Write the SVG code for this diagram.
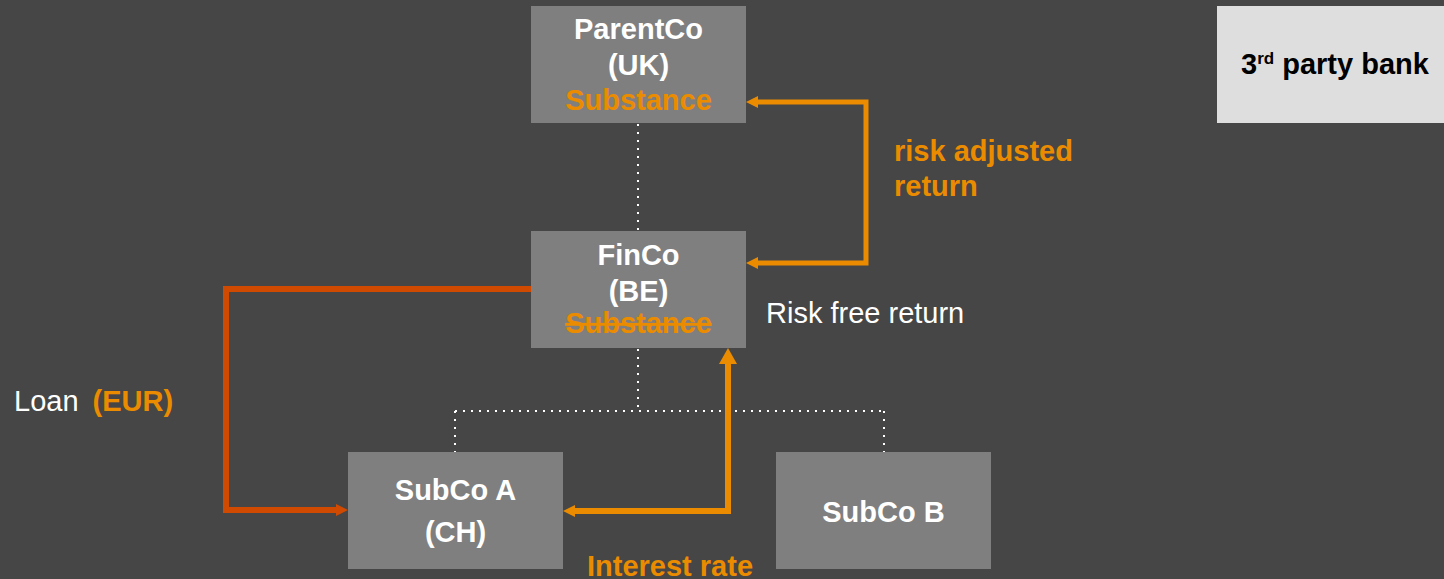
<svg xmlns="http://www.w3.org/2000/svg" width="1444" height="579" viewBox="0 0 1444 579">
<style>
.box{fill:#7F7F7F}
.t{font-family:"Liberation Sans",Arial,sans-serif;font-size:29px;font-weight:bold;fill:#FFFFFF;text-anchor:middle}
.or{fill:#EB8C00}
.lbl{font-family:"Liberation Sans",Arial,sans-serif;font-size:29px}
.dot{fill:none;stroke:#FFFFFF;stroke-width:2;stroke-dasharray:2 6}
.ol{fill:none;stroke:#EB8C00;stroke-width:5}
.rl{fill:none;stroke:#D04A02;stroke-width:6}
</style>
<defs>
<marker id="aO" viewBox="0 0 12 12" refX="0" refY="6" markerWidth="12" markerHeight="12" markerUnits="userSpaceOnUse" orient="auto-start-reverse"><path d="M0,0 L12,6 L0,12 z" fill="#EB8C00"/></marker>
<marker id="aOL" viewBox="0 0 16 18" refX="0" refY="9" markerWidth="16" markerHeight="18" markerUnits="userSpaceOnUse" orient="auto-start-reverse"><path d="M0,0 L16,9 L0,18 z" fill="#EB8C00"/></marker>
<marker id="aR" viewBox="0 0 12 12" refX="0" refY="6" markerWidth="12" markerHeight="12" markerUnits="userSpaceOnUse" orient="auto-start-reverse"><path d="M0,0 L12,6 L0,12 z" fill="#D04A02"/></marker>
</defs>
<rect width="1444" height="579" fill="#464646"/>
<g id="connectors">
<path class="dot" d="M638 124 V231"/>
<path class="dot" d="M638 349 V411 M455 411 H884 M455 411 V452 M884 411 V452"/>
<path class="ol" d="M758 263 H866 V102 H758" marker-start="url(#aO)" marker-end="url(#aO)"/>
<path class="rl" d="M531 289 H226 V510 H336" marker-end="url(#aR)"/>
<path class="ol" style="stroke-width:6" d="M575 511 H728 V364" marker-start="url(#aO)" marker-end="url(#aOL)"/>
</g>
<g id="parentco">
<rect class="box" x="531" y="6" width="215" height="117"/>
<text class="t" x="638.5" y="39">ParentCo</text>
<text class="t" x="638.5" y="75">(UK)</text>
<text class="t or" x="638.5" y="110">Substance</text>
</g>
<g id="finco">
<rect class="box" x="531" y="231" width="215" height="117"/>
<text class="t" x="638.5" y="265">FinCo</text>
<text class="t" x="638.5" y="301">(BE)</text>
<text class="t or" x="638.5" y="333" text-decoration="line-through">Substance</text>
</g>
<g id="subcoa">
<rect class="box" x="348" y="452" width="215" height="117"/>
<text class="t" x="455.5" y="500">SubCo A</text>
<text class="t" x="455.5" y="542">(CH)</text>
</g>
<g id="subcob">
<rect class="box" x="776" y="452" width="215" height="117"/>
<text class="t" x="883.5" y="522">SubCo B</text>
</g>
<g id="bank">
<rect x="1217" y="6" width="227" height="117" fill="#DEDEDE"/>
<text class="lbl" x="1241" y="74" font-weight="bold" fill="#000000">3<tspan font-size="17" dy="-10">rd</tspan><tspan dy="10"> party bank</tspan></text>
</g>
<g id="labels">
<text class="lbl or" x="894" y="161" font-weight="bold">risk adjusted</text>
<text class="lbl or" x="894" y="196" font-weight="bold">return</text>
<text class="lbl" x="766" y="323" fill="#FFFFFF">Risk free return</text>
<text class="lbl" x="14" y="411" fill="#FFFFFF">Loan <tspan class="or" font-weight="bold" dx="6">(EUR)</tspan></text>
<text class="lbl or" x="587" y="576" font-weight="bold">Interest rate</text>
</g>
</svg>
